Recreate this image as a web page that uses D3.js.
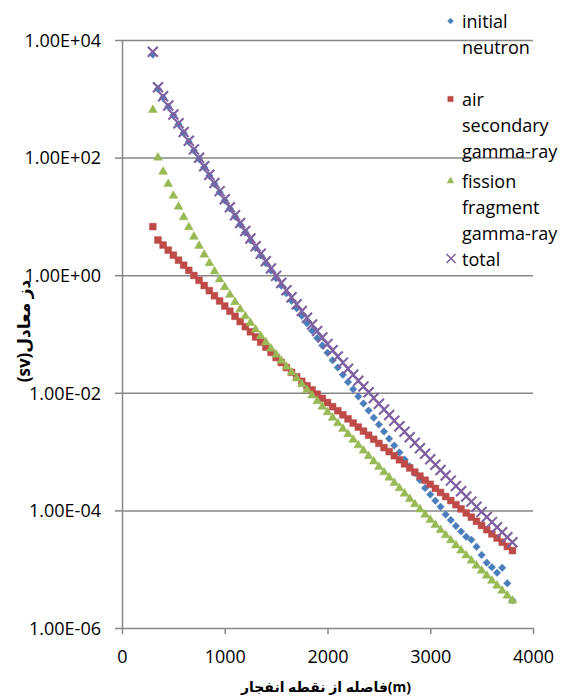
<!DOCTYPE html>
<html><head><meta charset="utf-8">
<script src="https://cdn.jsdelivr.net/npm/d3@7"></script>
<style>body{margin:0;background:#fff} svg{display:block;font-family:"Open Sans","DejaVu Sans",sans-serif}</style>
</head><body><svg id="c" width="565" height="696"></svg>
<script>
const distance = [300,350,400,450,500,550,600,650,700,750,800,850,900,950,1000,1050,1100,1150,1200,1250,1300,1350,1400,1450,1500,1550,1600,1650,1700,1750,1800,1850,1900,1950,2000,2050,2100,2150,2200,2250,2300,2350,2400,2450,2500,2550,2600,2650,2700,2750,2800,2850,2900,2950,3000,3050,3100,3150,3200,3250,3300,3350,3400,3450,3500,3550,3600,3650,3700,3750,3800];

const initialNeutron = [5650,1470,1040,732,518,368,261,186,132,95.0,68.2,49.2,35.5,25.7,18.7,13.6,9.95,7.26,5.34,3.93,2.90,2.16,1.60,1.20,0.89,0.662,0.493,0.367,0.274,0.204,0.152,0.114,0.0851,0.0637,0.0478,0.0358,0.0269,0.0202,0.0152,0.0115,0.00867,0.00658,0.00499,0.00378,0.00288,0.00219,0.00166,0.00127,9.66e-4,7.36e-4,5.62e-4,4.30e-4,3.28e-4,2.40e-4,1.86e-4,1.46e-4,1.15e-4,8.51e-5,6.84e-5,5.43e-5,4.37e-5,3.55e-5,3.16e-5,2.40e-5,1.75e-5,1.29e-5,1.08e-5,8.71e-6,1.06e-5,5.75e-6,2.95e-6];

const airSecondaryGamma = [6.7,3.97,3.26,2.67,2.19,1.80,1.48,1.21,0.99,0.818,0.668,0.546,0.447,0.365,0.299,0.244,0.200,0.163,0.133,0.109,0.0891,0.0729,0.0596,0.0487,0.0398,0.0327,0.0269,0.0223,0.0187,0.0157,0.0132,0.0112,0.00946,0.00804,0.00683,0.00581,0.00495,0.00422,0.00360,0.00306,0.00261,0.00223,0.00190,0.00162,0.00138,0.00117,0.00100,8.52e-4,7.26e-4,6.19e-4,5.27e-4,4.49e-4,3.83e-4,3.26e-4,2.78e-4,2.37e-4,2.02e-4,1.72e-4,1.47e-4,1.25e-4,1.06e-4,9.04e-5,7.67e-5,6.52e-5,5.53e-5,4.70e-5,3.99e-5,3.39e-5,2.88e-5,2.44e-5,2.07e-5];

const fissionFragmentGamma = [646,100,57.5,35.5,22.4,14.6,9.66,6.53,4.52,3.16,2.24,1.60,1.16,0.851,0.627,0.465,0.348,0.263,0.200,0.154,0.119,0.0923,0.0719,0.0564,0.0444,0.0351,0.0278,0.0221,0.0176,0.0140,0.0112,0.00899,0.00722,0.00580,0.00467,0.00376,0.00303,0.00244,0.00197,0.00159,0.00128,0.00104,8.39e-4,6.79e-4,5.50e-4,4.45e-4,3.61e-4,2.93e-4,2.38e-4,1.93e-4,1.57e-4,1.27e-4,1.04e-4,8.45e-5,6.90e-5,5.64e-5,4.62e-5,3.78e-5,3.10e-5,2.54e-5,2.08e-5,1.71e-5,1.40e-5,1.15e-5,9.45e-6,7.77e-6,6.39e-6,5.25e-6,4.32e-6,3.55e-6,2.92e-6];

const total = [6300,1570,1100,770,543,384,272,194,138,99.0,71.1,51.3,37.1,26.9,19.6,14.3,10.5,7.69,5.67,4.19,3.11,2.32,1.73,1.30,0.974,0.735,0.556,0.422,0.322,0.246,0.189,0.145,0.112,0.0871,0.0678,0.0529,0.0414,0.0326,0.0257,0.0203,0.0161,0.0128,0.0102,0.00817,0.00653,0.00522,0.00419,0.00336,0.00270,0.00217,0.00175,0.00141,0.00114,9.16e-4,7.41e-4,6.00e-4,4.86e-4,3.94e-4,3.21e-4,2.61e-4,2.12e-4,1.73e-4,1.41e-4,1.15e-4,9.44e-5,7.73e-5,6.32e-5,5.19e-5,4.26e-5,3.49e-5,2.86e-5];

const seriesNames = [["initial","neutron"],["air","secondary","gamma-ray"],["fission","fragment","gamma-ray"],["total"]];
const xTickValues = [0,1000,2000,3000,4000];
const xTickLabels = ["0","1000","2000","3000","4000"];
const yTickValues = [1e4,1e2,1,1e-2,1e-4,1e-6];
const yTickLabels = ["1.00E+04","1.00E+02","1.00E+00","1.00E-02","1.00E-04","1.00E-06"];
const xTitle = "فاصله از نقطه انفجار(m)";
const yTitle = "دز معادل(sv)";

const svg = d3.select("#c");
const gridColor = "#878787";
const x = d3.scaleLinear().domain([0,4000]).range([122,533]);
const y = d3.scaleLog().domain([1e-6,1e4]).range([628,40]);

// gridlines
svg.append("g").attr("transform",`translate(${x(0)},0)`)
  .call(d3.axisLeft(y).tickValues(yTickValues.slice(0,-1)).tickSize(-(x(4000)-x(0))).tickFormat(""))
  .call(g=>g.select(".domain").remove())
  .call(g=>g.selectAll("line").attr("stroke",gridColor).attr("stroke-width",1.5));

// y axis
const ya = svg.append("g").attr("transform",`translate(${x(0)},0)`)
  .call(d3.axisLeft(y).tickValues(yTickValues).tickSize(7).tickSizeOuter(0).tickPadding(14).tickFormat((d,i)=>yTickLabels[i]));
ya.select(".domain").attr("stroke",gridColor).attr("stroke-width",1.5);
ya.selectAll("line").attr("stroke",gridColor).attr("stroke-width",1.5);
ya.selectAll("text").attr("font-size",18).attr("font-family","Open Sans").attr("fill","#000").attr("dy","0.35em");

// x axis
const xa = svg.append("g").attr("transform",`translate(0,${y(1e-6)})`)
  .call(d3.axisBottom(x).tickValues(xTickValues).tickSize(6).tickSizeOuter(0).tickFormat((d,i)=>xTickLabels[i]));
xa.select(".domain").attr("stroke",gridColor).attr("stroke-width",1.5);
xa.selectAll("line").attr("stroke",gridColor).attr("stroke-width",1.5);
xa.selectAll("text").attr("font-size",18).attr("font-family","Open Sans").attr("fill","#000").attr("y",35).attr("dy",0);

// markers
const timesPath = "M-5,-5L5,5M-5,5L5,-5";
const series = [
  {vals: initialNeutron, color:"#4A7EBB", path: d3.symbol().type(d3.symbolSquare).size(28)(), rot:45, stroke:false},
  {vals: airSecondaryGamma, color:"#BE4B48", path: d3.symbol().type(d3.symbolSquare).size(46)(), rot:0, stroke:false},
  {vals: fissionFragmentGamma, color:"#98B954", path: d3.symbol().type(d3.symbolTriangle).size(34)(), rot:0, stroke:false},
  {vals: total, color:"#7D60A0", path: timesPath, rot:0, stroke:true}
];
series.forEach(s=>{
  svg.append("g").selectAll("path").data(distance.map((d,i)=>[d,s.vals[i]])).join("path")
    .attr("d", s.path)
    .attr("transform", d=>`translate(${x(d[0])},${y(d[1])}) rotate(${s.rot})`)
    .attr("fill", s.stroke? "none": s.color)
    .attr("stroke", s.color)
    .attr("stroke-width", s.stroke?2.1:0.5);
});

// legend
const legendBase = [28,106,188,265.5];
const lg = svg.append("g");
series.forEach((s,i)=>{
  lg.append("path").attr("d", s.path)
    .attr("transform",`translate(${s.stroke?451:450.5},${legendBase[i]-7}) rotate(${s.rot}) scale(${s.stroke?0.9:0.8})`)
    .attr("fill", s.stroke?"none":s.color).attr("stroke", s.color).attr("stroke-width", s.stroke?1.7:0.5);
  const t = lg.append("text").attr("x",462).attr("y",legendBase[i]).attr("font-size",18).attr("font-family","Open Sans").attr("fill","#000");
  seriesNames[i].forEach((line,j)=>{
    t.append("tspan").attr("x",462).attr("y",legendBase[i]+26*j).text(line);
  });
});

// titles
svg.append("text").attr("x",326).attr("y",692).attr("text-anchor","middle")
  .attr("font-size",14).attr("font-weight","bold").attr("font-family","Open Sans, DejaVu Sans")
  .text(xTitle);
svg.append("text").attr("transform","translate(30,331) rotate(-90)").attr("text-anchor","middle")
  .attr("font-size",17).attr("font-weight","bold").attr("font-family","Open Sans, DejaVu Sans")
  .style("direction","rtl").text(yTitle);
</script>
</body></html>
